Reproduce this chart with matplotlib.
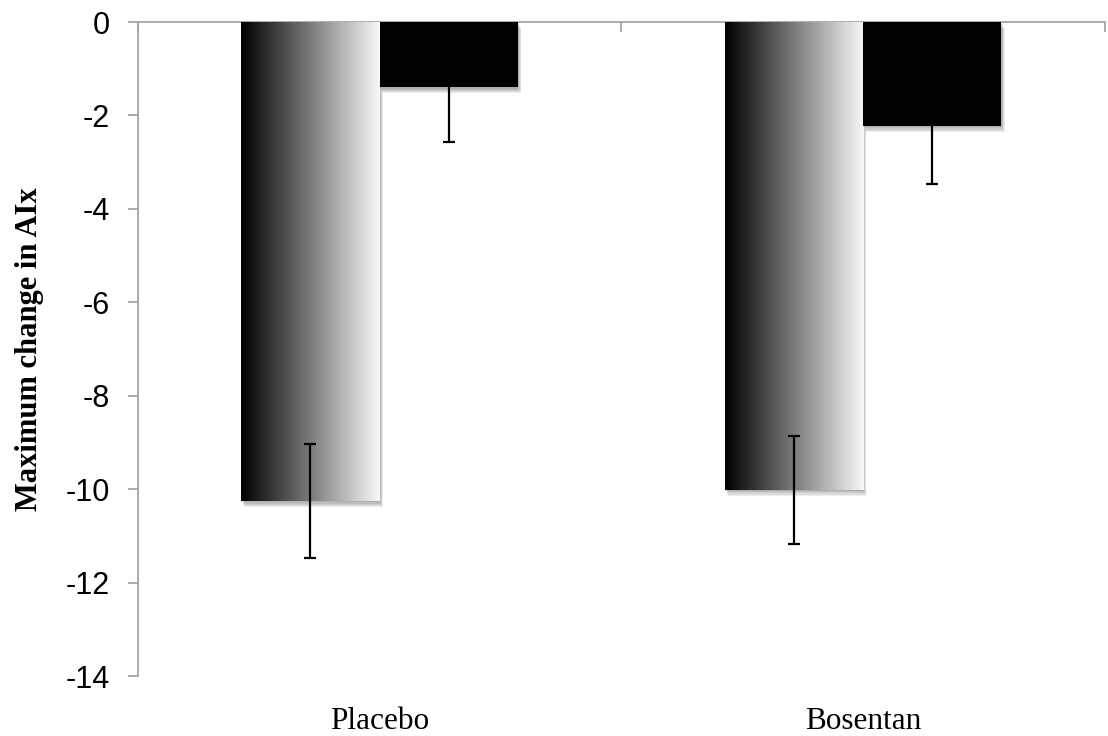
import numpy as np
import matplotlib
matplotlib.use("Agg")
from matplotlib import pyplot as plt
from matplotlib import patheffects as pe

groups = ["Placebo", "Bosentan"]
grad_vals = [-10.26, -10.02]
grad_err = [1.22, 1.15]
black_vals = [-1.40, -2.23]
black_err = [1.17, 1.24]
y_ticks = [0, -2, -4, -6, -8, -10, -12, -14]

axis_grey = "#a6a6a6"
width = 0.2865

fig = plt.figure(figsize=(11.08, 7.36), dpi=100)
ax = fig.add_axes([0.1245, 0.0815, 0.8725, 0.8885])
ax.set_xlim(-0.5, 1.5)
ax.set_ylim(-14, 0)

x = np.arange(len(groups))
grad_x = x - width / 2
black_x = x + width / 2

# soft drop shadow made from a few faint offset copies
shadow = [pe.SimplePatchShadow(offset=(o * 0.6, -o), shadow_rgbFace="#000000", alpha=0.07)
          for o in (4.0, 3.2, 2.4, 1.6, 0.8)] + [pe.Normal()]

# gradient bars: white base carrying the shadow, gradient image on top
base = ax.bar(grad_x, grad_vals, width, color="white", zorder=2, path_effects=shadow)
ramp = np.linspace(0.0, 0.97, 256).reshape(1, -1)
for rect in base:
    x0, y0 = rect.get_x(), rect.get_y()
    w, h = rect.get_width(), rect.get_height()
    ax.imshow(ramp, cmap="gray", vmin=0, vmax=1, aspect="auto",
              extent=(x0, x0 + w, y0 + h, y0), zorder=3, interpolation="bilinear")

ax.bar(black_x, black_vals, width, color="black", zorder=3, path_effects=shadow)

ax.errorbar(grad_x, grad_vals, yerr=grad_err, fmt="none", ecolor="black",
            elinewidth=1.6, capsize=4.3, capthick=1.6, zorder=5)
ax.errorbar(black_x, black_vals, yerr=black_err, fmt="none", ecolor="black",
            elinewidth=1.6, capsize=4.3, capthick=1.6, zorder=5)

# axes styling
for side in ["right", "bottom", "top"]:
    ax.spines[side].set_visible(False)
ax.spines["left"].set_color(axis_grey)
ax.spines["left"].set_linewidth(1.3)

ax.set_yticks(y_ticks)
ax.set_yticklabels([str(v) for v in y_ticks], fontsize=22, family="Liberation Sans")
ax.tick_params(axis="y", direction="out", length=7, width=1.3, color=axis_grey, pad=13)

ax.set_xticks(x)
ax.set_xticklabels(groups, fontsize=22.5, family="Liberation Serif")
ax.tick_params(axis="x", length=0, pad=22)

# category axis sits at y = 0 along the top
top = ax.secondary_xaxis("top")
top.set_xticks([-0.5, 0.5, 1.5])
top.set_xticklabels([])
top.tick_params(direction="in", length=7, width=1.3, color=axis_grey)
top.spines["top"].set_color(axis_grey)
top.spines["top"].set_linewidth(1.3)

ax.set_ylabel("Maximum change in AIx", fontsize=22, family="Liberation Serif",
              fontweight="bold", labelpad=16)

fig.savefig("out.png", dpi=100)
